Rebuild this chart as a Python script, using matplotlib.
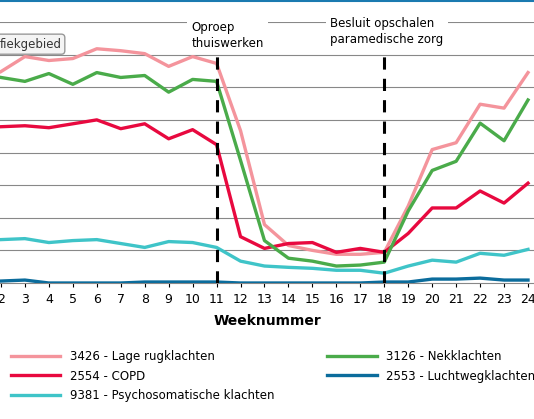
import matplotlib
matplotlib.use('Agg')
from matplotlib import pyplot as plt
from matplotlib.lines import Line2D

weeks = list(range(2, 25))
lage_rug = [6.48, 6.94, 6.82, 6.88, 7.18, 7.12, 7.03, 6.64, 6.94, 6.73, 4.67, 1.79, 1.15, 1.0, 0.88, 0.88, 0.94, 2.36, 4.09, 4.3, 5.48, 5.36, 6.45]
nek = [6.3, 6.18, 6.42, 6.09, 6.45, 6.3, 6.36, 5.85, 6.24, 6.18, 3.76, 1.3, 0.76, 0.67, 0.52, 0.55, 0.64, 2.21, 3.45, 3.73, 4.9, 4.36, 5.61]
copd = [4.79, 4.82, 4.76, 4.88, 5.0, 4.73, 4.88, 4.42, 4.7, 4.24, 1.42, 1.06, 1.21, 1.24, 0.94, 1.06, 0.94, 1.52, 2.3, 2.3, 2.82, 2.45, 3.06]
psycho = [1.33, 1.36, 1.24, 1.3, 1.33, 1.21, 1.09, 1.27, 1.24, 1.09, 0.67, 0.52, 0.48, 0.45, 0.39, 0.39, 0.3, 0.52, 0.7, 0.64, 0.91, 0.85, 1.03]
lucht = [0.06, 0.09, 0.0, 0.0, 0.0, 0.0, 0.03, 0.03, 0.03, 0.03, 0.0, 0.0, 0.0, 0.0, 0.0, 0.0, 0.03, 0.03, 0.12, 0.12, 0.15, 0.09, 0.09]

# legend order: first column, then second column
series = [
    ('3426 - Lage rugklachten', lage_rug, '#f4949c'),
    ('2554 - COPD', copd, '#e8093f'),
    ('9381 - Psychosomatische klachten', psycho, '#3fc4c8'),
    ('3126 - Nekklachten', nek, '#4aab4a'),
    ('2553 - Luchtwegklachten', lucht, '#0b6c9c'),
]

fig = plt.figure(figsize=(5.34, 4.19), dpi=100)
fig.add_artist(Line2D([0, 1], [0.998, 0.998], color='#1a7ab0', lw=1.5))
ax = fig.add_axes([0, 136 / 419, 1, 261 / 419])

for y in range(1, 9):
    ax.axhline(y, color='#888888', lw=0.8, zorder=1)
for name, vals, c in series:
    ax.plot(weeks, vals, color=c, lw=2.4, zorder=3)

for w in (11, 18):
    ax.plot([w, w], [0, 7.0], color='black', lw=2.2, ls=(0, (4, 3)), zorder=4)

ax.text(9.95, 7.6, 'Oproep\nthuiswerken', fontsize=8.5,
        va='center', ha='left', linespacing=1.3,
        bbox=dict(fc='white', ec='none', pad=3), zorder=5)
ax.text(15.75, 7.7, 'Besluit opschalen\nparamedische zorg', fontsize=8.5,
        va='center', ha='left', linespacing=1.3,
        bbox=dict(fc='white', ec='none', pad=3), zorder=5)
ax.text(1.93, 7.32, 'fiekgebied', fontsize=8.5, color='#333333', va='center',
        bbox=dict(fc='#f4f4f4', ec='#999999', boxstyle='round,pad=0.3'), zorder=6)

ax.set_xlim(1.96, 24.25)
ax.set_ylim(0, 8)
ax.set_xticks(weeks)
ax.tick_params(axis='x', length=3, labelsize=9, colors='black', pad=4)
ax.set_yticks([])
for s in ('top', 'right', 'left'):
    ax.spines[s].set_visible(False)
ax.spines['bottom'].set_color('#888888')
ax.set_xlabel('Weeknummer', fontsize=10, fontweight='bold', labelpad=6)

handles = [Line2D([], [], color=c, lw=2.4) for _, _, c in series]
labels = [n for n, _, _ in series]
fig.legend(handles, labels, loc='upper left', bbox_to_anchor=(0.0, 0.19),
           ncol=2, frameon=False, fontsize=8.5, handlelength=4.2,
           columnspacing=4.5, labelspacing=0.55)

fig.savefig('out.png', dpi=100)
